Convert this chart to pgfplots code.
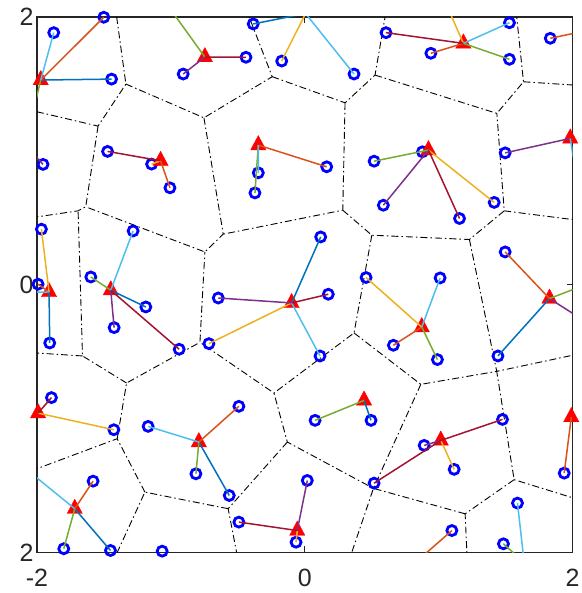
\documentclass[border=0pt]{standalone}
\usepackage{fontspec}
\setmainfont{Liberation Sans}
\usepackage{pgfplots}
\pgfplotsset{compat=1.18}

\definecolor{mb}{RGB}{0,114,189}
\definecolor{mo}{RGB}{217,83,25}
\definecolor{my}{RGB}{237,177,32}
\definecolor{mp}{RGB}{126,47,142}
\definecolor{mg}{RGB}{119,172,48}
\definecolor{mc}{RGB}{77,190,238}
\definecolor{mr}{RGB}{162,20,47}
\definecolor{axgray}{RGB}{38,38,38}

\begin{document}
\begin{tikzpicture}
\useasboundingbox (-37pt,-40.5pt) rectangle (544pt,552.5pt);
\begin{axis}[
    scale only axis,
    width=535.5pt, height=535.5pt,
    at={(0pt,0pt)}, anchor=south west,
    xmin=-2, xmax=2, ymin=-2, ymax=2,
    xtick={-2,0,2}, ytick={-2,0,2},
    xticklabels={-2,0,2}, yticklabels={2,0,2},
    tick align=inside,
    major tick length=6pt,
    axis line style={draw=axgray, line width=1.3pt},
    every tick/.style={draw=axgray, line width=1pt},
    ticklabel style={font=\fontsize{25}{25}\selectfont, text=axgray},
    xticklabel style={yshift=-13pt},
    clip mode=individual,
    unbounded coords=jump,
]
% voronoi edges
\addplot[black, line width=0.9pt, dash pattern=on 7pt off 3pt on 1.5pt off 3pt] coordinates {
(-1.405,2) (-1.336,1.499) (-1.544,1.185) (-2,1.292) (nan,nan)
(-1.336,1.499) (-0.753,1.247) (-0.243,1.554) (-0.415,2) (nan,nan)
(-1.544,1.185) (-1.636,0.582) (-1.693,0.552) (-2,0.507) (nan,nan)
(-0.753,1.247) (-0.609,0.378) (-0.746,0.245) (-1.636,0.582) (nan,nan)
(-0.243,1.554) (0.301,1.359) (0.525,1.566) (0.600,2) (nan,nan)
(0.525,1.566) (1.435,1.280) (1.634,1.516) (1.583,2) (nan,nan)
(1.634,1.516) (2,1.492) (nan,nan)
(0.301,1.359) (0.284,0.557) (-0.609,0.378) (nan,nan)
(0.284,0.557) (0.501,0.370) (1.230,0.338) (1.490,0.552) (1.435,1.280) (nan,nan)
(1.490,0.552) (2,0.487) (nan,nan)
(0.501,0.370) (0.368,-0.360) (-0.230,-0.809) (-0.783,-0.430) (-0.746,0.245) (nan,nan)
(1.230,0.338) (1.434,-0.647) (2,-0.527) (nan,nan)
(0.368,-0.360) (0.867,-0.744) (1.434,-0.647) (1.564,-1.456) (2,-1.591) (nan,nan)
(1.564,-1.456) (1.198,-1.711) (1.211,-2) (nan,nan)
(0.867,-0.744) (0.513,-1.521) (0.351,-2) (nan,nan)
(1.198,-1.711) (0.513,-1.521) (-0.130,-1.175) (-0.230,-0.809) (nan,nan)
(-0.130,-1.175) (-0.572,-1.673) (-0.509,-2) (nan,nan)
(-0.572,-1.673) (-1.194,-1.549) (-1.401,-2) (nan,nan)
(-1.194,-1.549) (-1.401,-1.150) (-2,-1.374) (nan,nan)
(-1.401,-1.150) (-1.331,-0.734) (-0.783,-0.430) (nan,nan)
(-1.331,-0.734) (-1.660,-0.532) (-1.693,0.552) (nan,nan)
(-1.660,-0.532) (-2,-0.510)
};
% data points
\addplot[only marks, mark=o, mark size=5pt, line width=2.8pt, draw=blue,
    every mark/.append style={line width=2.8pt}] coordinates {
(-1.875,1.883) (-1.501,1.998) (-1.443,1.536) (-0.908,1.574) (-1.955,0.899)
(-1.473,0.996) (-1.007,0.724) (-1.144,0.901) (-0.385,1.948) (-0.439,1.699)
(-0.172,1.671) (0.368,1.574) (0.607,1.883) (0.164,0.881) (-0.347,0.836)
(-0.372,0.686) (0.518,0.923) (1.529,1.957) (0.942,1.729) (1.529,1.684)
(1.834,1.841) (1.497,0.985) (0.879,0.993) (0.587,0.594) (1.156,0.495)
(1.415,0.615) (-1.967,0.415) (-1.992,0.004) (-1.905,-0.435) (-1.282,0.402)
(-1.598,0.058) (-1.187,-0.166) (-1.424,-0.320) (-0.938,-0.482) (0.119,0.357)
(-0.646,-0.099) (0.176,-0.071) (-0.716,-0.440) (0.114,-0.532) (0.458,0.054)
(1.011,0.051) (0.662,-0.452) (0.991,-0.559) (1.497,0.245) (1.443,-0.532)
(-1.892,-0.843) (-1.426,-1.083) (-1.170,-1.058) (-0.813,-1.412) (-0.492,-0.908)
(-0.564,-1.574) (-1.581,-1.467) (-1.800,-1.972) (-1.451,-1.985) (-1.065,-1.990)
(0.077,-1.013) (0.495,-1.013) (-0.492,-1.773) (0.019,-1.462) (-0.065,-1.923)
(0.518,-1.482) (1.477,-1.006) (0.892,-1.200) (1.116,-1.379) (1.938,-1.407)
(1.589,-1.631) (1.484,-1.935) (1.099,-1.836)
};
% centres
\addplot[only marks, mark=triangle*, mark size=8.8pt, draw=red, fill=red,
    mark options={yscale=1.08}] coordinates {
(-1.972,1.529) (-0.746,1.701) (-1.077,0.926) (1.185,1.803) (-0.347,1.043)
(0.924,1.006) (1.983,1.093) (-1.910,-0.054) (-1.449,-0.041) (-0.098,-0.136)
(0.874,-0.316) (1.828,-0.103) (-1.992,-0.959) (-0.791,-1.175) (-1.718,-1.673)
(0.443,-0.864) (-0.056,-1.836) (1.016,-1.163) (1.991,-0.988)
};
% links from points to centres
\addplot[mb, line width=1.5pt] coordinates {
(-1.972,1.529) (-1.443,1.536) (nan,nan) (0.924,1.006) (0.879,0.993) (nan,nan)
(-1.910,-0.054) (-1.905,-0.435) (nan,nan) (-1.449,-0.041) (-1.187,-0.166) (nan,nan)
(-0.098,-0.136) (0.119,0.357) (nan,nan) (1.828,-0.103) (1.443,-0.532) (nan,nan)
(-0.791,-1.175) (-0.564,-1.574) (nan,nan) (-1.718,-1.673) (-1.451,-1.985) (nan,nan)
(0.443,-0.864) (0.495,-1.013) (nan,nan) (0.006,2.026) (-0.385,1.948)
};
\addplot[mo, line width=1.5pt] coordinates {
(-1.972,1.529) (-1.501,1.998) (nan,nan) (-1.077,0.926) (-1.007,0.724) (nan,nan)
(1.185,1.803) (0.942,1.729) (nan,nan) (-0.347,1.043) (0.164,0.881) (nan,nan)
(-1.910,-0.054) (-1.992,0.004) (nan,nan) (0.874,-0.316) (0.662,-0.452) (nan,nan)
(1.828,-0.103) (1.497,0.245) (nan,nan) (-0.791,-1.175) (-0.492,-0.908) (nan,nan)
(-1.718,-1.673) (-1.581,-1.467) (nan,nan) (1.991,-0.988) (1.938,-1.407) (nan,nan)
(0.843,-2.060) (1.099,-1.836) (nan,nan) (2.058,1.888) (1.834,1.841)
};
\addplot[my, line width=1.5pt] coordinates {
(-1.077,0.926) (-1.144,0.901) (nan,nan) (1.185,1.803) (1.056,2.097) (nan,nan)
(0.924,1.006) (1.415,0.615) (nan,nan) (-1.910,-0.054) (-1.967,0.415) (nan,nan)
(-0.098,-0.136) (-0.716,-0.440) (nan,nan) (0.874,-0.316) (0.458,0.054) (nan,nan)
(-1.992,-0.959) (-1.426,-1.083) (nan,nan) (-0.056,-1.836) (-0.065,-1.923) (nan,nan)
(1.016,-1.163) (1.116,-1.379) (nan,nan) (0.006,2.026) (-0.172,1.671)
};
\addplot[mp, line width=1.5pt] coordinates {
(-0.746,1.701) (-0.908,1.574) (nan,nan) (0.924,1.006) (0.587,0.594) (nan,nan)
(1.983,1.093) (1.497,0.985) (nan,nan) (-1.449,-0.041) (-1.424,-0.320) (nan,nan)
(-0.098,-0.136) (-0.646,-0.099) (nan,nan) (1.828,-0.103) (2.058,-0.250) (nan,nan)
(-0.056,-1.836) (0.019,-1.462) (nan,nan) (1.016,-1.163) (0.892,-1.200) (nan,nan)
(-2.039,0.991) (-1.955,0.899)
};
\addplot[mg, line width=1.5pt] coordinates {
(-1.972,1.529) (-2.017,1.342) (nan,nan) (-0.746,1.701) (-1.037,2.105) (nan,nan)
(1.185,1.803) (1.529,1.684) (nan,nan) (-0.347,1.043) (-0.372,0.686) (nan,nan)
(0.924,1.006) (0.518,0.923) (nan,nan) (-1.449,-0.041) (-1.598,0.058) (nan,nan)
(0.874,-0.316) (0.991,-0.559) (nan,nan) (1.828,-0.103) (2.058,-0.015) (nan,nan)
(-0.791,-1.175) (-0.813,-1.412) (nan,nan) (-1.718,-1.673) (-1.800,-1.972) (nan,nan)
(0.443,-0.864) (0.077,-1.013) (nan,nan) (1.639,-2.075) (1.484,-1.935)
};
\addplot[mc, line width=1.5pt] coordinates {
(-1.972,1.529) (-1.875,1.883) (nan,nan) (1.185,1.803) (1.529,1.957) (nan,nan)
(-0.347,1.043) (-0.347,0.836) (nan,nan) (1.983,1.093) (2.013,0.908) (nan,nan)
(-1.910,-0.054) (-2.054,-0.056) (nan,nan) (-1.449,-0.041) (-1.282,0.402) (nan,nan)
(-0.098,-0.136) (0.114,-0.532) (nan,nan) (0.874,-0.316) (1.011,0.051) (nan,nan)
(-0.791,-1.175) (-1.170,-1.058) (nan,nan) (-1.718,-1.673) (-2.069,-1.387) (nan,nan)
(0.006,2.026) (0.368,1.574) (nan,nan) (1.639,-2.075) (1.589,-1.631)
};
\addplot[mr, line width=1.5pt] coordinates {
(-0.746,1.701) (-0.439,1.699) (nan,nan) (-1.077,0.926) (-1.473,0.996) (nan,nan)
(1.185,1.803) (0.607,1.883) (nan,nan) (0.924,1.006) (1.156,0.495) (nan,nan)
(-1.449,-0.041) (-0.938,-0.482) (nan,nan) (-0.098,-0.136) (0.176,-0.071) (nan,nan)
(-1.992,-0.959) (-1.892,-0.843) (nan,nan) (-0.056,-1.836) (-0.492,-1.773) (nan,nan)
(1.016,-1.163) (0.518,-1.482) (nan,nan) (1.016,-1.163) (1.477,-1.006)
};
\end{axis}
\end{tikzpicture}
\end{document}
